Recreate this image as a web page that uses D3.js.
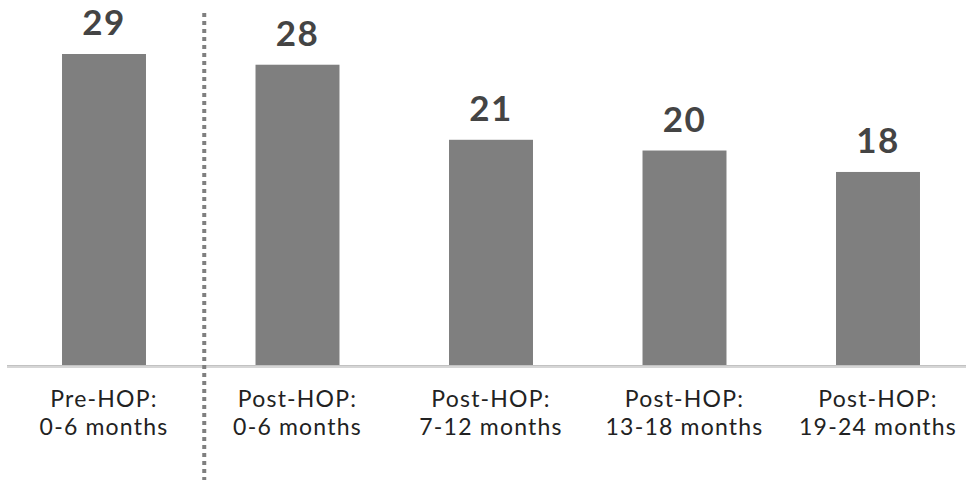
<!DOCTYPE html>
<html>
<head>
<meta charset="utf-8">
<script src="https://cdn.jsdelivr.net/npm/d3@7"></script>
<style>
  html, body { margin: 0; padding: 0; background: #ffffff; }
  svg { display: block; }
</style>
</head>
<body>
<svg id="chart" width="966" height="482"></svg>
<script>
// Categories (two-line labels) and values
const categories = ["pre-0-6", "post-0-6", "post-7-12", "post-13-18", "post-19-24"];
const labelLine1 = ["Pre-HOP:", "Post-HOP:", "Post-HOP:", "Post-HOP:", "Post-HOP:"];
const labelLine2 = ["0-6 months", "0-6 months", "7-12 months", "13-18 months", "19-24 months"];
const values = [29, 28, 21, 20, 18];

const svg = d3.select("#chart");
const W = 966, H = 482;
const baseY = 365;

const x = d3.scaleBand()
  .domain(categories)
  .range([7.25, 974.75])
  .paddingInner(0.566)
  .paddingOuter(0.283);

const y = d3.scaleLinear()
  .domain([0, 29])
  .range([baseY, 54]);

const font = "Lato, 'Open Sans', sans-serif";

// Bars
svg.append("g")
  .selectAll("rect")
  .data(values)
  .join("rect")
  .attr("x", (d, i) => x(categories[i]))
  .attr("y", d => y(d))
  .attr("width", x.bandwidth())
  .attr("height", d => y(0) - y(d))
  .attr("fill", "#7f7f7f");

// Value labels
svg.append("g")
  .selectAll("text")
  .data(values)
  .join("text")
  .attr("x", (d, i) => x(categories[i]) + x.bandwidth() / 2)
  .attr("y", d => y(d) - 19)
  .attr("text-anchor", "middle")
  .attr("font-family", font)
  .attr("font-weight", 700)
  .attr("font-size", 35)
  .attr("letter-spacing", 1.5)
  .attr("fill", "#444444")
  .text(d => d);

// Baseline
svg.append("rect")
  .attr("x", 7)
  .attr("y", baseY)
  .attr("width", W - 7)
  .attr("height", 3)
  .attr("fill", "#d6d6d6");
svg.append("line")
  .attr("x1", 7).attr("x2", W)
  .attr("y1", baseY + 0.5).attr("y2", baseY + 0.5)
  .attr("stroke", "#c2c2c2").attr("stroke-width", 1);

// Category labels
const lab = svg.append("g")
  .selectAll("text")
  .data(categories)
  .join("text")
  .attr("text-anchor", "middle")
  .attr("font-family", font)
  .attr("font-size", 23)
  .attr("letter-spacing", 1.2)
  .attr("fill", "#222222");
lab.append("tspan")
  .attr("x", d => x(d) + x.bandwidth() / 2)
  .attr("y", 406.5)
  .text((d, i) => labelLine1[i]);
lab.append("tspan")
  .attr("x", d => x(d) + x.bandwidth() / 2)
  .attr("y", 435)
  .text((d, i) => labelLine2[i]);

// Dotted separator between pre and post periods
const sepX = (x(categories[0]) + x.bandwidth() + x(categories[1])) / 2 + 3.5;
svg.append("line")
  .attr("x1", sepX).attr("x2", sepX)
  .attr("y1", 13).attr("y2", 480)
  .attr("stroke", "#7f7f7f")
  .attr("stroke-width", 4)
  .attr("stroke-dasharray", "4 4");
</script>
</body>
</html>
